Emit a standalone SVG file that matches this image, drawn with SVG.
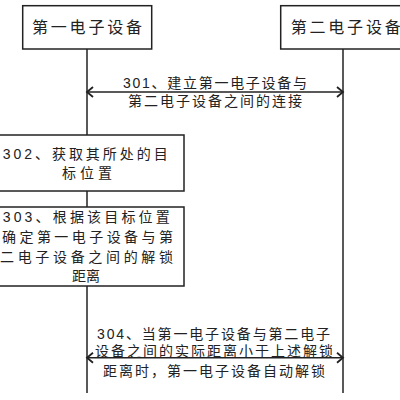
<svg xmlns="http://www.w3.org/2000/svg" width="400" height="400" viewBox="0 0 400 400">
<defs>
<style>
.box{fill:#fff;stroke:#222;stroke-width:1.5}
.ln{fill:none;stroke:#222;stroke-width:1.5}
.t{font-family:"Liberation Sans","Noto Sans CJK SC",sans-serif;fill:#222;font-size:14px}
.h{font-size:16px}
</style>
<marker id="ah" viewBox="-8 -6 10 12" markerWidth="10" markerHeight="12" refX="0" refY="0" orient="auto-start-reverse" markerUnits="userSpaceOnUse">
<path d="M-6,-5 L0,0 L-6,5" fill="none" stroke="#222" stroke-width="1.8"/>
</marker>
</defs>
<rect width="400" height="400" fill="#fff"/>
<g id="lifelines">
<line class="ln" x1="87" y1="49" x2="87" y2="393"/>
<line class="ln" x1="343" y1="49" x2="343" y2="393"/>
</g>
<g id="dev1">
<rect class="box" x="22.7" y="5.7" width="129" height="43.3"/>
<text class="t h" x="32" y="33" textLength="110" lengthAdjust="spacing">第一电子设备</text>
</g>
<g id="dev2">
<rect class="box" x="280.7" y="5.7" width="126" height="43.3"/>
<text class="t h" x="290.7" y="33" textLength="110" lengthAdjust="spacing">第二电子设备</text>
</g>
<g id="step302">
<rect class="box" x="-10" y="135" width="194" height="56"/>
<text class="t" x="2.7" y="159" textLength="165" lengthAdjust="spacing">302、获取其所处的目</text>
<text class="t" x="62" y="178" textLength="50" lengthAdjust="spacing">标位置</text>
</g>
<g id="step303">
<rect class="box" x="-10" y="207" width="194" height="79"/>
<text class="t" x="2.7" y="222" textLength="167" lengthAdjust="spacing">303、根据该目标位置</text>
<text class="t" x="2" y="242" textLength="171" lengthAdjust="spacing">确定第一电子设备与第</text>
<text class="t" x="0" y="262" textLength="173" lengthAdjust="spacing">二电子设备之间的解锁</text>
<text class="t" x="72" y="281" textLength="28" lengthAdjust="spacing">距离</text>
</g>
<g id="connectors">
<line class="ln" x1="87" y1="92" x2="343" y2="92" marker-start="url(#ah)" marker-end="url(#ah)"/>
<line class="ln" x1="87" y1="357.7" x2="343" y2="357.7" marker-start="url(#ah)" marker-end="url(#ah)"/>
</g>
<g id="labels">
<text class="t" x="123" y="88" textLength="184" lengthAdjust="spacing">301、建立第一电子设备与</text>
<text class="t" x="128" y="106" textLength="174" lengthAdjust="spacing">第二电子设备之间的连接</text>
<text class="t" x="97" y="339" textLength="233" lengthAdjust="spacing">304、当第一电子设备与第二电子</text>
<text class="t" x="95" y="356" textLength="238" lengthAdjust="spacing">设备之间的实际距离小于上述解锁</text>
<text class="t" x="103" y="376" textLength="222" lengthAdjust="spacing">距离时，第一电子设备自动解锁</text>
</g>
</svg>
